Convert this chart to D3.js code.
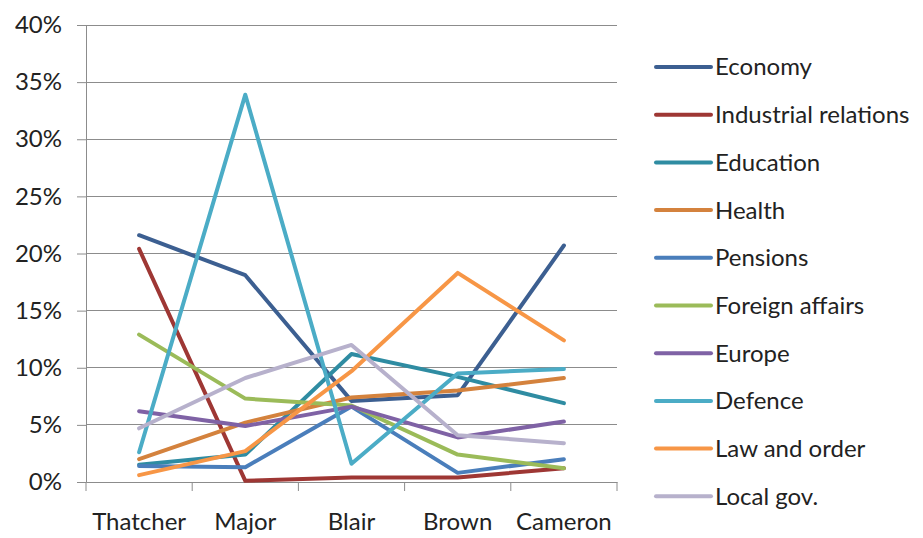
<!DOCTYPE html>
<html><head><meta charset="utf-8">
<script src="https://cdn.jsdelivr.net/npm/d3@7/dist/d3.min.js"></script>
<style>body{margin:0;background:#fff;}svg{display:block;font-family:Lato,"Open Sans",sans-serif;}</style>
</head><body><svg id="c" width="923" height="538"></svg>
<script>
const categories = ["Thatcher","Major","Blair","Brown","Cameron"];
const seriesNames = ["Economy","Industrial relations","Education","Health","Pensions","Foreign affairs","Europe","Defence","Law and order","Local gov."];
const economy = [21.6,18.1,7.1,7.6,20.7];
const industrialRelations = [20.4,0.1,0.4,0.4,1.2];
const education = [1.5,2.4,11.2,9.2,6.9];
const health = [2.0,5.2,7.4,8.0,9.1];
const pensions = [1.4,1.3,6.6,0.8,2.0];
const foreignAffairs = [12.9,7.3,6.7,2.4,1.2];
const europe = [6.2,4.9,6.6,3.9,5.3];
const defence = [2.6,33.9,1.6,9.5,9.9];
const lawAndOrder = [0.6,2.7,9.7,18.3,12.4];
const localGov = [4.7,9.1,12.0,4.1,3.4];
const seriesValues = [economy,industrialRelations,education,health,pensions,foreignAffairs,europe,defence,lawAndOrder,localGov];
const colors = ["#3C5F91","#9E3734","#2F8CA2","#D4823D","#4A7EBB","#9BBB59","#7F62A5","#4BACC6","#F79646","#B7B1CC"];
const yTicks = [0,5,10,15,20,25,30,35,40];

const FS = 24;
const svg = d3.select("#c");
const L=86, R=617, T=25, B=482;
const x = d3.scaleBand().domain(categories).range([L,R]);
const y = d3.scaleLinear().domain([0,40]).range([B,T]);

// gridlines
svg.append("g").selectAll("line").data(yTicks.filter(d=>d>0)).join("line")
  .attr("x1",L).attr("x2",R).attr("y1",d=>y(d)).attr("y2",d=>y(d))
  .attr("stroke","#8c8c8c").attr("stroke-width",1).attr("shape-rendering","crispEdges");

// y axis
const ya = svg.append("g").attr("transform",`translate(${L},0)`)
  .call(d3.axisLeft(y).tickValues(yTicks).tickFormat(d=>d+"%").tickSize(9).tickPadding(15));
ya.select(".domain").attr("stroke","#8c8c8c");
ya.selectAll(".tick line").attr("stroke","#8c8c8c");
ya.selectAll("text").attr("font-size",FS).attr("fill","#222").attr("font-family","Lato,sans-serif");

// x axis
const xa = svg.append("g").attr("transform",`translate(0,${B})`)
  .call(d3.axisBottom(x).tickSize(0).tickPadding(31));
xa.select(".domain").attr("stroke","#8c8c8c");
xa.selectAll("text").attr("font-size",FS).attr("fill","#222").attr("font-family","Lato,sans-serif");
const bounds = categories.map(c=>x(c)).concat([R]);
xa.append("g").selectAll("line").data(bounds).join("line")
  .attr("x1",d=>d).attr("x2",d=>d).attr("y1",0).attr("y2",9).attr("stroke","#8c8c8c");

// lines
const line = d3.line().x((d,i)=>x(categories[i])+x.bandwidth()/2).y(d=>y(d));
svg.append("g").selectAll("path").data(seriesValues).join("path")
  .attr("d",line).attr("fill","none").attr("stroke",(d,i)=>colors[i])
  .attr("stroke-width",4).attr("stroke-linejoin","round").attr("stroke-linecap","round");

// legend
const lg = svg.append("g").selectAll("g").data(seriesNames).join("g")
  .attr("transform",(d,i)=>`translate(656,${67+i*47.7})`);
lg.append("line").attr("x1",0).attr("x2",55).attr("stroke",(d,i)=>colors[i]).attr("stroke-width",4).attr("stroke-linecap","round");
lg.append("text").attr("x",59).attr("dy","0.35em").attr("font-size",FS).attr("fill","#222").text(d=>d);
</script></body></html>
